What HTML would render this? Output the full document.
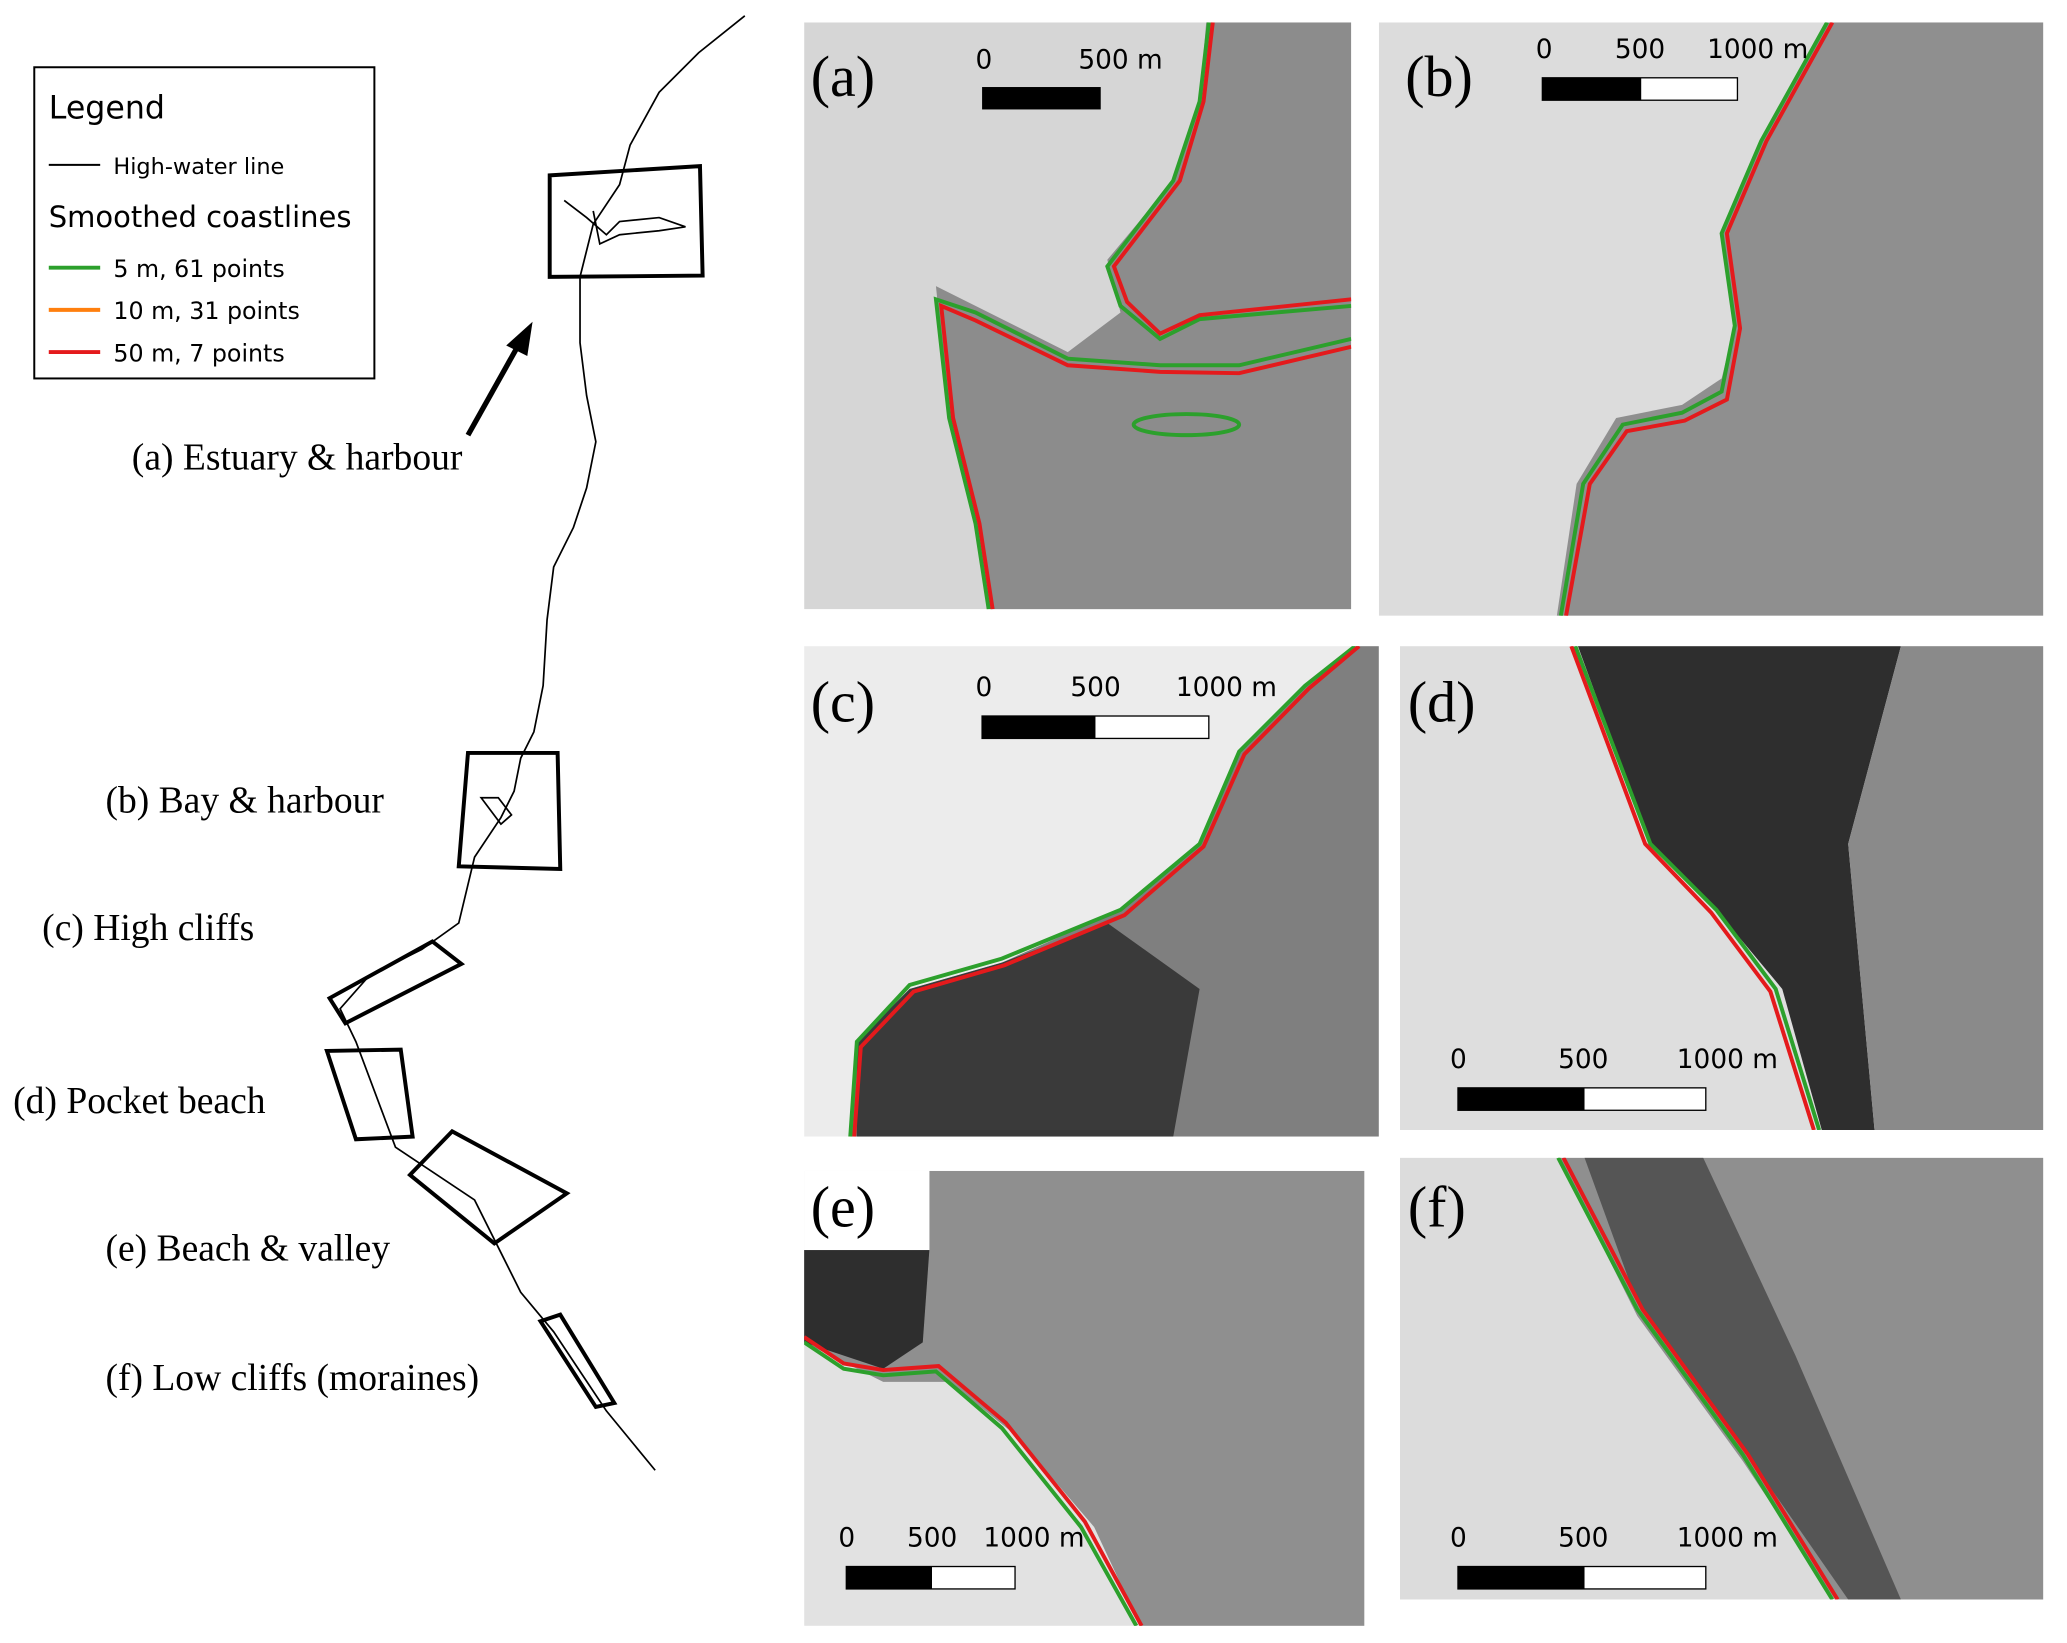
<!DOCTYPE html>
<html><head><meta charset="utf-8"><style>
html,body{margin:0;padding:0;background:#fff;}
svg{display:block;}
.s{font-family:"Liberation Serif",serif;}
.l{font-family:"DejaVu Sans","Liberation Sans",sans-serif;}
</style></head><body>
<svg width="2067" height="1643" viewBox="0 0 1568 1246" preserveAspectRatio="none" xmlns="http://www.w3.org/2000/svg">
<rect width="1568" height="1246" fill="#fff"/>
<polyline fill="none" stroke="#000" stroke-width="1.3" points="565,12 530,40 500,70 478,110 470,140 450,170 440,210 440,260 445,300 452,335 445,370 435,400 420,430 415,470 412,520 405,555 395,575 390,600 380,620 360,650 348,700 320,720 280,740 258,765 270,790 285,830 300,870 330,890 360,910 380,950 395,980 420,1010 440,1040 460,1070 497,1115"/>
<path d="M428,152 L445,165 L460,178 L470,168 L500,165 L520,172 L500,175 L470,178 L455,185 L450,160" fill="none" stroke="#000" stroke-width="1.3"/>
<path d="M365,605 L378,605 L388,618 L380,625 Z" fill="none" stroke="#000" stroke-width="1.3"/>
<g fill="none" stroke="#000" stroke-width="3">
<polygon points="417,133 531,126 533,209 417,210"/>
<polygon points="355,571 423,571 425,659 348,657"/>
<polygon points="250,757 328,714 350,731 262,776"/>
<polygon points="248,797 304,796 313,862 270,864"/>
<polygon points="311,891 343,858 430,905 375,943"/>
<polygon points="410,1002 425,997 466,1064 452,1067"/>
</g>
<line x1="355" y1="330" x2="392" y2="264" stroke="#000" stroke-width="4"/>
<polygon points="404,244 384,262 400,270" fill="#000"/>
<rect x="26" y="51" width="258" height="236" fill="#fff" stroke="#000" stroke-width="1.5"/>
<text x="37" y="90" class="l" font-size="24">Legend</text>
<line x1="37" y1="125" x2="76" y2="125" stroke="#000" stroke-width="1.5"/>
<text x="86" y="132" class="l" font-size="17">High-water line</text>
<text x="37" y="172" class="l" font-size="22">Smoothed coastlines</text>
<line x1="37" y1="203" x2="76" y2="203" stroke="#2ca02c" stroke-width="3"/>
<text x="86" y="210" class="l" font-size="18">5 m,  61 points</text>
<line x1="37" y1="235" x2="76" y2="235" stroke="#ff7f0e" stroke-width="3"/>
<text x="86" y="242" class="l" font-size="18">10 m, 31 points</text>
<line x1="37" y1="267" x2="76" y2="267" stroke="#e41a1c" stroke-width="3"/>
<text x="86" y="274" class="l" font-size="18">50 m, 7 points</text>
<g class="s" font-size="28.5">
<text x="100" y="356">(a) Estuary &amp; harbour</text>
<text x="80" y="616">(b) Bay &amp; harbour</text>
<text x="32" y="713">(c) High cliffs</text>
<text x="10" y="844">(d) Pocket beach</text>
<text x="80" y="956">(e) Beach &amp; valley</text>
<text x="80" y="1054">(f) Low cliffs  (moraines)</text>
</g>
<svg x="610" y="17" width="415" height="445" viewBox="0 0 415 445">
<rect width="415" height="445" fill="#d6d6d6"/>
<polygon points="305,0 415,0 415,445 140,445 130,380 110,300 100,200 200,250 240,220 230,180 280,120 300,60" fill="#8c8c8c"/>
<polyline fill="none" stroke="#2ca02c" stroke-width="3" points="307,0 300,60 280,120 230,185 240,215 270,240 300,225 415,215"/>
<polyline fill="none" stroke="#e41a1c" stroke-width="3" points="310,0 303,60 285,120 235,185 245,212 270,236 300,222 415,210"/>
<polyline fill="none" stroke="#2ca02c" stroke-width="3" points="140,445 130,380 110,300 100,210 130,220 200,255 270,260 330,260 415,240"/>
<polyline fill="none" stroke="#e41a1c" stroke-width="3" points="143,445 133,380 113,300 104,215 130,226 200,260 270,265 330,266 415,246"/>
<ellipse cx="290" cy="305" rx="40" ry="8" fill="none" stroke="#2ca02c" stroke-width="3"/>
</svg>
<text x="615" y="73" class="s" font-size="44">(a)</text>
<text x="740" y="52" class="l" font-size="20">0</text><text x="818" y="52" class="l" font-size="20">500 m</text>
<rect x="745" y="66" width="90" height="17" fill="#000"/>
<svg x="1046" y="17" width="504" height="450" viewBox="0 0 504 450">
<rect width="504" height="450" fill="#dcdcdc"/>
<polygon points="340,0 504,0 504,450 135,450 150,350 180,300 230,290 260,270 270,230 260,160 290,90" fill="#8f8f8f"/>
<polyline fill="none" stroke="#2ca02c" stroke-width="3" points="340,0 290,90 260,160 270,230 260,280 230,296 185,305 155,350 138,450"/>
<polyline fill="none" stroke="#e41a1c" stroke-width="3" points="344,0 294,90 264,160 274,232 264,286 232,302 188,310 160,350 142,450"/>
</svg>
<text x="1066" y="73" class="s" font-size="44">(b)</text>
<text x="1165" y="44" class="l" font-size="20">0</text><text x="1225" y="44" class="l" font-size="20">500</text><text x="1295" y="44" class="l" font-size="20">1000 m</text>
<rect x="1170" y="59" width="148" height="17" fill="#fff" stroke="#000"/><rect x="1170" y="59" width="75" height="17" fill="#000"/>
<svg x="610" y="490" width="436" height="372" viewBox="0 0 436 372">
<rect width="436" height="372" fill="#ececec"/>
<polygon points="418,0 436,0 436,372 35,372 40,300 80,260 150,240 240,200 300,150 330,80 380,30" fill="#7f7f7f"/>
<polygon points="40,372 40,300 80,260 150,240 230,210 300,260 280,372" fill="#3a3a3a"/>
<polyline fill="none" stroke="#2ca02c" stroke-width="3" points="418,0 380,30 330,80 300,150 240,200 150,237 80,257 40,300 35,372"/>
<polyline fill="none" stroke="#e41a1c" stroke-width="3" points="421,0 383,32 334,82 303,152 243,204 152,242 83,262 43,304 38,372"/>
</svg>
<text x="615" y="547" class="s" font-size="44">(c)</text>
<text x="740" y="528" class="l" font-size="20">0</text><text x="812" y="528" class="l" font-size="20">500</text><text x="892" y="528" class="l" font-size="20">1000 m</text>
<rect x="745" y="543" width="172" height="17" fill="#fff" stroke="#000"/><rect x="745" y="543" width="86" height="17" fill="#000"/>
<svg x="1062" y="490" width="488" height="367" viewBox="0 0 488 367">
<rect width="488" height="367" fill="#dedede"/>
<polygon points="135,0 380,0 340,150 360,367 320,367 290,260 240,200 190,150" fill="#2e2e2e"/>
<polygon points="380,0 488,0 488,367 360,367 340,150" fill="#8a8a8a"/>
<polyline fill="none" stroke="#2ca02c" stroke-width="3" points="133,0 190,150 240,200 285,260 318,367"/>
<polyline fill="none" stroke="#e41a1c" stroke-width="3" points="130,0 186,150 236,202 281,262 314,367"/>
</svg>
<text x="1068" y="547" class="s" font-size="44">(d)</text>
<text x="1100" y="810" class="l" font-size="20">0</text><text x="1182" y="810" class="l" font-size="20">500</text><text x="1272" y="810" class="l" font-size="20">1000 m</text>
<rect x="1106" y="825" width="188" height="17" fill="#fff" stroke="#000"/><rect x="1106" y="825" width="96" height="17" fill="#000"/>
<svg x="610" y="888" width="425" height="345" viewBox="0 0 425 345">
<rect width="425" height="345" fill="#e2e2e2"/>
<polygon points="95,0 425,0 425,345 255,345 220,270 160,200 110,160 60,160 0,130 0,60 95,60" fill="#8f8f8f"/>
<polygon points="0,60 95,60 90,130 60,150 0,130" fill="#2e2e2e"/>
<polyline fill="none" stroke="#2ca02c" stroke-width="3" points="0,130 30,150 60,155 100,152 150,195 210,270 252,345"/>
<polyline fill="none" stroke="#e41a1c" stroke-width="3" points="0,126 30,146 60,151 102,148 153,191 213,266 256,345"/>
</svg>
<rect x="610" y="888" width="95" height="60" fill="#fff"/>
<text x="615" y="930" class="s" font-size="44">(e)</text>
<text x="636" y="1173" class="l" font-size="20">0</text><text x="688" y="1173" class="l" font-size="20">500</text><text x="746" y="1173" class="l" font-size="20">1000 m</text>
<rect x="642" y="1188" width="128" height="17" fill="#fff" stroke="#000"/><rect x="642" y="1188" width="65" height="17" fill="#000"/>
<svg x="1062" y="878" width="488" height="335" viewBox="0 0 488 335">
<rect width="488" height="335" fill="#dcdcdc"/>
<polygon points="120,0 488,0 488,335 330,335 260,230 180,120" fill="#8f8f8f"/>
<polygon points="140,0 230,0 300,150 380,335 340,335 260,220 180,110" fill="#555"/>
<polyline fill="none" stroke="#2ca02c" stroke-width="3" points="120,0 180,115 260,225 328,335"/>
<polyline fill="none" stroke="#e41a1c" stroke-width="3" points="124,0 184,115 264,225 332,335"/>
</svg>
<text x="1068" y="930" class="s" font-size="44">(f)</text>
<text x="1100" y="1173" class="l" font-size="20">0</text><text x="1182" y="1173" class="l" font-size="20">500</text><text x="1272" y="1173" class="l" font-size="20">1000 m</text>
<rect x="1106" y="1188" width="188" height="17" fill="#fff" stroke="#000"/><rect x="1106" y="1188" width="96" height="17" fill="#000"/>
</svg>
</body></html>
